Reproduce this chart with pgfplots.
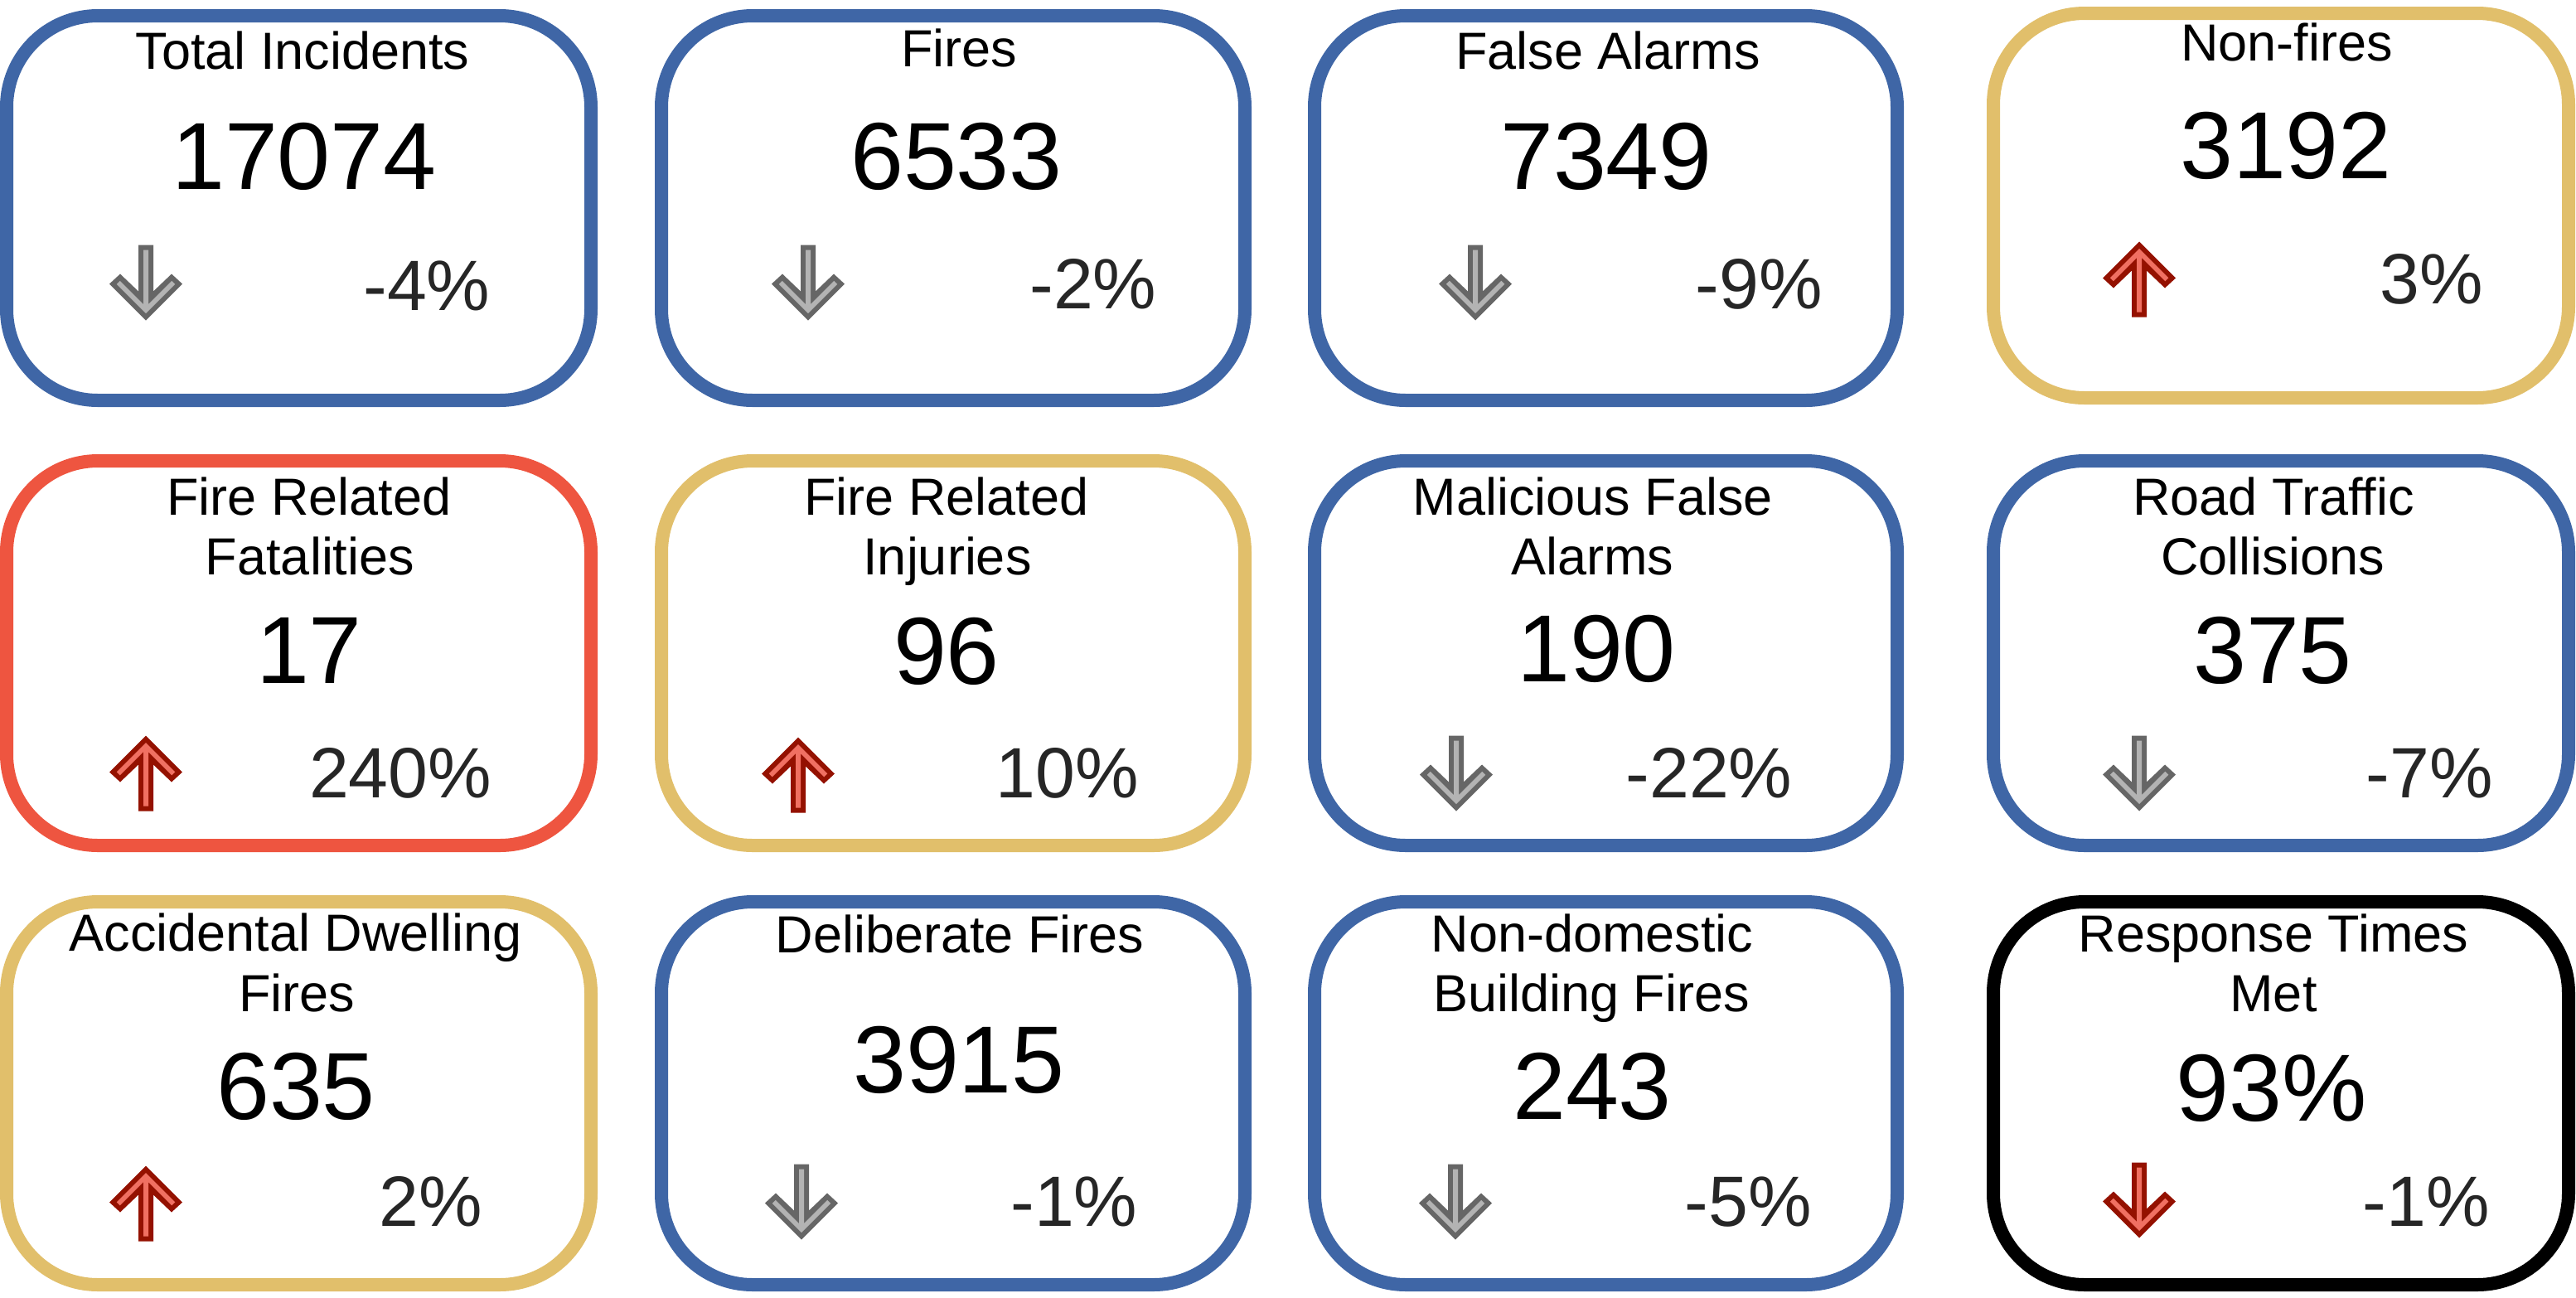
\documentclass[border=0pt]{standalone}
\usepackage{pgfplots}
\pgfplotsset{compat=1.18}
\usepackage{fontspec}
\setmainfont{Liberation Sans}
\definecolor{cblue}{HTML}{3F66A6}
\definecolor{cgold}{HTML}{E1BF6B}
\definecolor{cred}{HTML}{EE5540}
\definecolor{gdark}{HTML}{666666}
\definecolor{glight}{HTML}{B3B3B3}
\definecolor{rdark}{HTML}{941100}
\definecolor{rlight}{HTML}{F07062}
\definecolor{pctgray}{HTML}{262626}
\newcommand\apt[3]{\pgfpoint{(#2)*0.25pt}{(#1)*(#3)*0.25pt}}
\newcommand\arrowshape[3]{%
  \pgfsetfillcolor{#2}%
  \pgfpathmoveto{\apt{#1}{-9}{45.5}}%
  \pgfpathlineto{\apt{#1}{9}{45.5}}%
  \pgfpathlineto{\apt{#1}{9}{-10.5}}%
  \pgfpathlineto{\apt{#1}{31}{10.5}}%
  \pgfpathlineto{\apt{#1}{44}{-1.5}}%
  \pgfpathlineto{\apt{#1}{0}{-45.5}}%
  \pgfpathlineto{\apt{#1}{-44}{-1.5}}%
  \pgfpathlineto{\apt{#1}{-31}{10.5}}%
  \pgfpathlineto{\apt{#1}{-9}{-10.5}}%
  \pgfpathclose
  \pgfusepath{fill}%
  \pgfsetfillcolor{#3}%
  \pgfpathmoveto{\apt{#1}{-3}{39.5}}%
  \pgfpathlineto{\apt{#1}{3}{39.5}}%
  \pgfpathlineto{\apt{#1}{3}{-26}}%
  \pgfpathlineto{\apt{#1}{31.25}{2.25}}%
  \pgfpathlineto{\apt{#1}{35.25}{-1.75}}%
  \pgfpathlineto{\apt{#1}{0}{-37}}%
  \pgfpathlineto{\apt{#1}{-35.25}{-1.75}}%
  \pgfpathlineto{\apt{#1}{-31.25}{2.25}}%
  \pgfpathlineto{\apt{#1}{-3}{-26}}%
  \pgfpathclose
  \pgfusepath{fill}%
}
\pgfdeclareplotmark{downgray}{\arrowshape{1}{gdark}{glight}}
\pgfdeclareplotmark{upred}{\arrowshape{-1}{rdark}{rlight}}
\pgfdeclareplotmark{downred}{\arrowshape{1}{rdark}{rlight}}
\begin{document}
\begin{tikzpicture}
\begin{axis}[
  scale only axis, width=777pt, height=391.25pt,
  xmin=0, xmax=3108, ymin=0, ymax=1565, y dir=reverse,
  hide axis, clip=false,
]
% cards
\tikzset{card/.style={line width=4pt, rounded corners=27.5pt}}
\draw[card, cblue] (axis cs:8,19) rectangle (axis cs:713,483);
\draw[card, cblue] (axis cs:798,19) rectangle (axis cs:1502,483);
\draw[card, cblue] (axis cs:1586,19) rectangle (axis cs:2289,483);
\draw[card, cgold] (axis cs:2405,16) rectangle (axis cs:3099,480);
\draw[card, cred] (axis cs:8,556) rectangle (axis cs:713,1020);
\draw[card, cgold] (axis cs:798,556) rectangle (axis cs:1502,1020);
\draw[card, cblue] (axis cs:1586,556) rectangle (axis cs:2289,1020);
\draw[card, cblue] (axis cs:2405,556) rectangle (axis cs:3099,1020);
\draw[card, cgold] (axis cs:8,1088) rectangle (axis cs:713,1550);
\draw[card, cblue] (axis cs:798,1088) rectangle (axis cs:1502,1550);
\draw[card, cblue] (axis cs:1586,1088) rectangle (axis cs:2289,1550);
\draw[card, black] (axis cs:2405,1088) rectangle (axis cs:3099,1550);
% titles
\addplot[only marks, mark=none, point meta=explicit symbolic, nodes near coords,
  nodes near coords style={anchor=base, inner sep=0pt, text=black, font=\fontsize{15.75}{18}\selectfont}]
coordinates {
 (365,83) [Total Incidents]
 (1157,80) [Fires]
 (1940,83) [False Alarms]
 (2759,73) [Non-fires]
 (373,621) [Fire Related] (374,693) [Fatalities]
 (1142,621) [Fire Related] (1143,693) [Injuries]
 (1922,621) [Malicious False] (1921,693) [Alarms]
 (2743,621) [Road Traffic] (2742,693) [Collisions]
 (357,1147) [Accidental Dwelling] (358,1220) [Fires]
 (1158,1149) [Deliberate Fires]
 (1921,1148) [Non-domestic] (1920,1220) [Building Fires]
 (2743,1148) [Response Times] (2743,1220) [Met]
};
% main values
\addplot[only marks, mark=none, point meta=explicit symbolic, nodes near coords,
  nodes near coords style={anchor=base, inner sep=0pt, text=black, font=\fontsize{28.75}{32}\selectfont}]
coordinates {
 (367,228) [17074] (1154,228) [6533] (1938,228) [7349] (2758,215) [3192]
 (373,824) [17] (1142,825) [96] (1926,822) [190] (2742,824) [375]
 (357,1350) [635] (1157,1318) [3915] (1921,1350) [243] (2741,1352) [93\%]
};
% changes
\addplot[only marks, mark=none, point meta=explicit symbolic, nodes near coords,
  nodes near coords style={anchor=base, inner sep=0pt, text=pctgray, font=\fontsize{21.5}{24}\selectfont}]
coordinates {
 (515,374) [-4\%] (1319,372) [-2\%] (2122,372) [-9\%] (2934,366) [3\%]
 (483,962) [240\%] (1288,962) [10\%] (2062,962) [-22\%] (2931,962) [-7\%]
 (520,1479) [2\%] (1296,1479) [-1\%] (2109,1479) [-5\%] (2927,1479) [-1\%]
};
% arrows
\addplot[only marks, mark=downgray] coordinates {
 (176,341) (975,341) (1780,341)
 (1757,933) (2581,933)
 (967,1450) (1756,1450)
};
\addplot[only marks, mark=upred] coordinates {
 (2581,337) (176,933) (963,935) (176,1452)
};
\addplot[only marks, mark=downred] coordinates {
 (2581,1448)
};
\end{axis}
\pgfresetboundingbox
\useasboundingbox (0,0) rectangle (777pt,391.25pt);
\end{tikzpicture}
\end{document}
